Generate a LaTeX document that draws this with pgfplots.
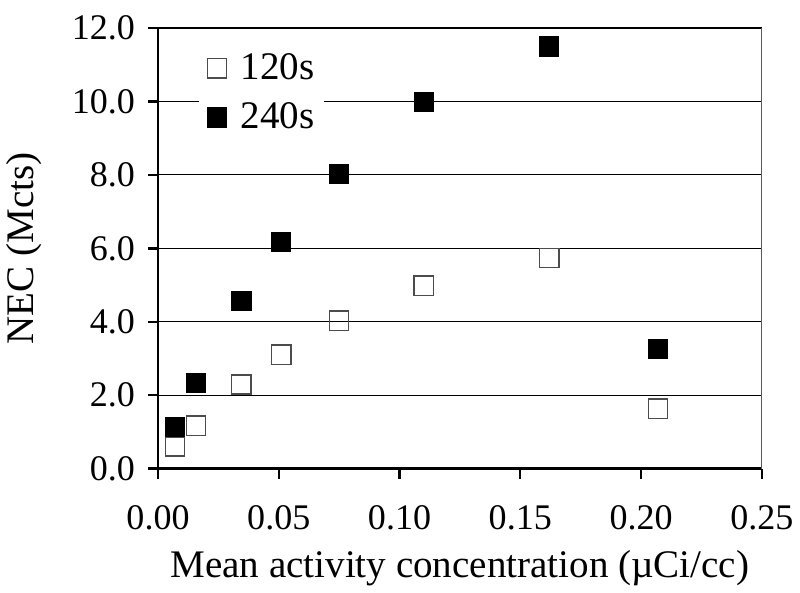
\documentclass[border=0pt]{standalone}
\usepackage{pgfplots}
\pgfplotsset{compat=1.18}
\usepackage{fontspec}
\setmainfont{Liberation Serif}
\begin{document}
\begin{tikzpicture}
\begin{axis}[
  name=ax,
  scale only axis,
  width=301.5pt, height=220pt,
  xmin=0, xmax=0.25, ymin=0, ymax=12,
  axis x line=bottom, axis y line=left,
  axis line style={line width=1.2pt, -},
  xtick={0,0.05,0.1,0.15,0.2,0.25},
  ytick={0,2,4,6,8,10,12},
  tick align=outside,
  major tick length=5pt,
  tick style={line width=1.2pt, black},
  ymajorgrids,
  major grid style={black, line width=0.6pt},
  /pgf/number format/assume math mode=true,
  xticklabel style={/pgf/number format/.cd, fixed, fixed zerofill, precision=2},
  yticklabel style={/pgf/number format/.cd, fixed, fixed zerofill, precision=1},
  ticklabel style={font=\fontsize{18}{21}\selectfont},
  xticklabel shift=10pt,
  yticklabel shift=3pt,
  label style={font=\fontsize{19.5}{23}\selectfont},
  xlabel={Mean activity concentration (µCi/cc)},
  ylabel={NEC (Mcts)},
  xlabel style={yshift=-3pt},
  ylabel style={yshift=8pt},
  legend style={at={(0.068,0.965)}, anchor=north west, draw=none, fill=white,
    font=\fontsize{19.5}{22}\selectfont, inner sep=3pt, row sep=6pt,
    /tikz/every odd column/.append style={column sep=5pt}},
  legend cell align=left,
  legend image code/.code={\path (-0.2em,0pt); \draw[#1] (0.35em,0pt) -- plot coordinates {(0.35em,0pt)};},
]
\draw[gray!70!black, line width=1.2pt] (rel axis cs:1,0) -- (rel axis cs:1,1);
\addplot[only marks, mark=square, mark size=4.8pt, mark options={draw=black!70, line width=0.7pt, fill=white}]
 coordinates {(0.007,0.60) (0.0158,1.17) (0.0345,2.29) (0.051,3.10) (0.075,4.03) (0.110,4.98) (0.162,5.74) (0.207,1.63)};
\addlegendentry{120s}
\addplot[only marks, mark=square*, mark size=4.8pt, mark options={draw=black, fill=black}]
 coordinates {(0.007,1.14) (0.0158,2.34) (0.0345,4.57) (0.051,6.18) (0.075,8.03) (0.110,9.99) (0.162,11.5) (0.207,3.27)};
\addlegendentry{240s}
\end{axis}
\path (ax.north west) ++(0,14pt);
\end{tikzpicture}
\end{document}
